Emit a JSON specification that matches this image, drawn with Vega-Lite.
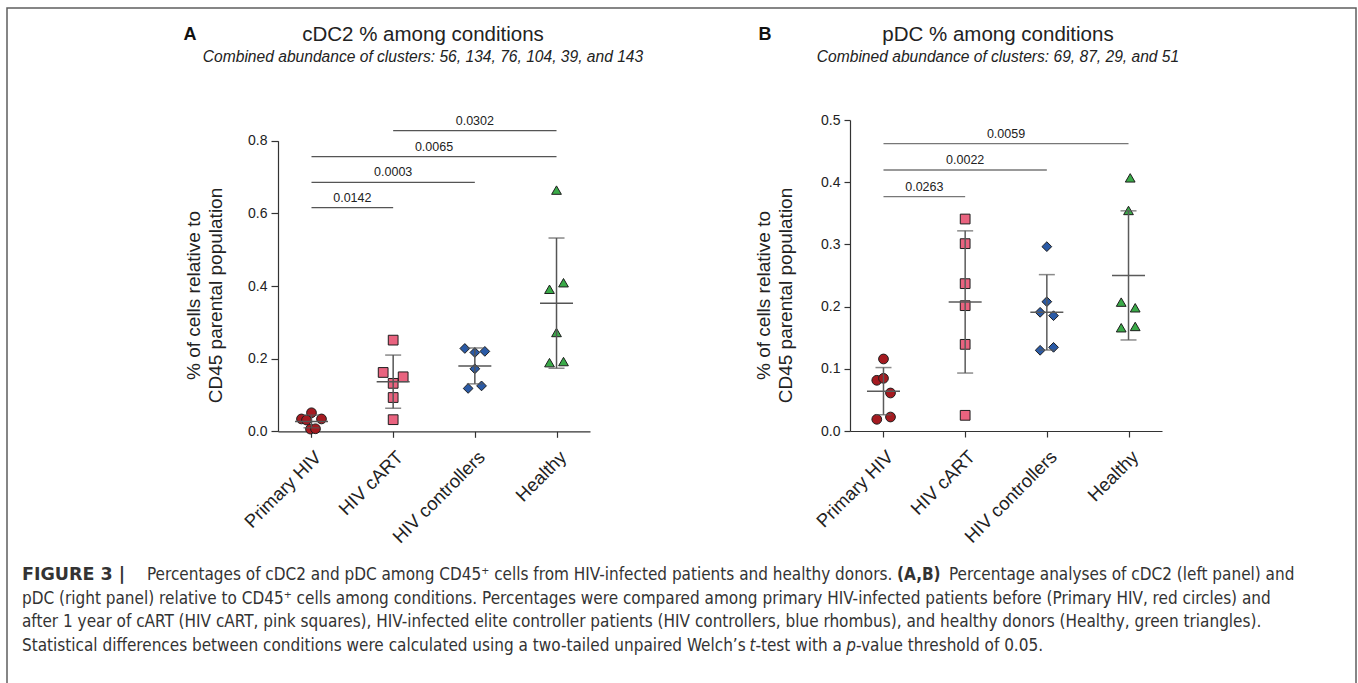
{
  "$schema": "https://vega.github.io/schema/vega-lite/v6.json",
  "width": 1349,
  "height": 690,
  "autosize": {"type": "none"},
  "padding": {"left": 7, "top": 8, "right": 2, "bottom": 0},
  "background": "white",
  "config": {
    "font": "Liberation Sans",
    "view": {"stroke": "#5f5f5f", "strokeWidth": 1.5},
    "axis": {"grid": false, "domainColor": "#333333", "tickColor": "#333333", "labelColor": "#222222", "titleColor": "#222222", "domainWidth": 1.2, "tickWidth": 1.2, "labelFont": "Liberation Sans", "titleFont": "Liberation Sans"},
    "text": {"font": "Liberation Sans", "color": "#222222"}
  },
  "datasets": {
    "pts": [
      {"panel": "A", "cond": "Primary HIV", "v": 0.051, "j": 0},
      {"panel": "A", "cond": "Primary HIV", "v": 0.034, "j": -1},
      {"panel": "A", "cond": "Primary HIV", "v": 0.031, "j": -0.5},
      {"panel": "A", "cond": "Primary HIV", "v": 0.034, "j": 1},
      {"panel": "A", "cond": "Primary HIV", "v": 0.006, "j": -0.1},
      {"panel": "A", "cond": "Primary HIV", "v": 0.007, "j": 0.4},
      {"panel": "A", "cond": "HIV cART", "v": 0.251, "j": 0},
      {"panel": "A", "cond": "HIV cART", "v": 0.162, "j": -1},
      {"panel": "A", "cond": "HIV cART", "v": 0.150, "j": 1},
      {"panel": "A", "cond": "HIV cART", "v": 0.132, "j": 0},
      {"panel": "A", "cond": "HIV cART", "v": 0.093, "j": 0},
      {"panel": "A", "cond": "HIV cART", "v": 0.032, "j": 0},
      {"panel": "A", "cond": "HIV controllers", "v": 0.228, "j": -1},
      {"panel": "A", "cond": "HIV controllers", "v": 0.217, "j": 0},
      {"panel": "A", "cond": "HIV controllers", "v": 0.220, "j": 1},
      {"panel": "A", "cond": "HIV controllers", "v": 0.172, "j": 0},
      {"panel": "A", "cond": "HIV controllers", "v": 0.118, "j": -0.67},
      {"panel": "A", "cond": "HIV controllers", "v": 0.125, "j": 0.67},
      {"panel": "A", "cond": "Healthy", "v": 0.664, "j": 0},
      {"panel": "A", "cond": "Healthy", "v": 0.391, "j": -0.7},
      {"panel": "A", "cond": "Healthy", "v": 0.409, "j": 0.7},
      {"panel": "A", "cond": "Healthy", "v": 0.272, "j": 0},
      {"panel": "A", "cond": "Healthy", "v": 0.189, "j": -0.7},
      {"panel": "A", "cond": "Healthy", "v": 0.192, "j": 0.7},
      {"panel": "B", "cond": "Primary HIV", "v": 0.1158, "j": 0},
      {"panel": "B", "cond": "Primary HIV", "v": 0.0815, "j": -0.67},
      {"panel": "B", "cond": "Primary HIV", "v": 0.0847, "j": 0},
      {"panel": "B", "cond": "Primary HIV", "v": 0.0611, "j": 0.7},
      {"panel": "B", "cond": "Primary HIV", "v": 0.0188, "j": -0.67},
      {"panel": "B", "cond": "Primary HIV", "v": 0.0225, "j": 0.7},
      {"panel": "B", "cond": "HIV cART", "v": 0.3408, "j": 0},
      {"panel": "B", "cond": "HIV cART", "v": 0.3012, "j": 0},
      {"panel": "B", "cond": "HIV cART", "v": 0.2369, "j": 0},
      {"panel": "B", "cond": "HIV cART", "v": 0.2015, "j": 0},
      {"panel": "B", "cond": "HIV cART", "v": 0.1393, "j": 0},
      {"panel": "B", "cond": "HIV cART", "v": 0.0252, "j": 0},
      {"panel": "B", "cond": "HIV controllers", "v": 0.2964, "j": 0},
      {"panel": "B", "cond": "HIV controllers", "v": 0.2079, "j": 0},
      {"panel": "B", "cond": "HIV controllers", "v": 0.1908, "j": -0.67},
      {"panel": "B", "cond": "HIV controllers", "v": 0.1854, "j": 0.67},
      {"panel": "B", "cond": "HIV controllers", "v": 0.1297, "j": -0.67},
      {"panel": "B", "cond": "HIV controllers", "v": 0.1345, "j": 0.67},
      {"panel": "B", "cond": "Healthy", "v": 0.407, "j": 0.17},
      {"panel": "B", "cond": "Healthy", "v": 0.3546, "j": 0},
      {"panel": "B", "cond": "Healthy", "v": 0.2072, "j": -0.73},
      {"panel": "B", "cond": "Healthy", "v": 0.1981, "j": 0.67},
      {"panel": "B", "cond": "Healthy", "v": 0.166, "j": -0.73},
      {"panel": "B", "cond": "Healthy", "v": 0.1681, "j": 0.67}
    ],
    "brk": [
      {"panel": "A", "i1": 0, "i2": 1, "y": 0.6156, "p": "0.0142"},
      {"panel": "A", "i1": 0, "i2": 2, "y": 0.685, "p": "0.0003"},
      {"panel": "A", "i1": 0, "i2": 3, "y": 0.756, "p": "0.0065"},
      {"panel": "A", "i1": 1, "i2": 3, "y": 0.8275, "p": "0.0302"},
      {"panel": "B", "i1": 0, "i2": 1, "y": 0.3767, "p": "0.0263"},
      {"panel": "B", "i1": 0, "i2": 2, "y": 0.4196, "p": "0.0022"},
      {"panel": "B", "i1": 0, "i2": 3, "y": 0.462, "p": "0.0059"}
    ],
    "heads": [
      {"panel": "A", "letter": "A", "title": "cDC2 % among conditions", "sub": "Combined abundance of clusters: 56, 134, 76, 104, 39, and 143"},
      {"panel": "B", "letter": "B", "title": "pDC % among conditions", "sub": "Combined abundance of clusters: 69, 87, 29, and 51"}
    ],
    "cap": [
      {"line": 1, "seg": "1a", "text": "FIGURE 3 |"},
      {"line": 1, "seg": "1b", "text": "Percentages of cDC2 and pDC among CD45⁺ cells from HIV-infected patients and healthy donors."},
      {"line": 1, "seg": "1c", "text": "(A,B)"},
      {"line": 1, "seg": "1d", "text": "Percentage analyses of cDC2 (left panel) and"},
      {"line": 2, "seg": "2", "text": "pDC (right panel) relative to CD45⁺ cells among conditions. Percentages were compared among primary HIV-infected patients before (Primary HIV, red circles) and"},
      {"line": 3, "seg": "3", "text": "after 1 year of cART (HIV cART, pink squares), HIV-infected elite controller patients (HIV controllers, blue rhombus), and healthy donors (Healthy, green triangles)."},
      {"line": 4, "seg": "4a", "text": "Statistical differences between conditions were calculated using a two-tailed unpaired Welch’s"},
      {"line": 4, "seg": "4b", "text": "t"},
      {"line": 4, "seg": "4c", "text": "-test with a"},
      {"line": 4, "seg": "4d", "text": "p"},
      {"line": 4, "seg": "4e", "text": "-value threshold of 0.05."}
    ]
  },
  "layer": [
    {
      "layer": [
        {
          "data": {"name": "pts"},
          "transform": [{"filter": "datum.panel == 'A'"}],
          "mark": {"type": "point", "filled": true, "stroke": "#1e1e1e", "strokeWidth": 1, "opacity": 1, "size": 95},
          "encoding": {
            "x": {"field": "cond", "type": "nominal", "scale": {"type": "point", "domain": ["Primary HIV", "HIV cART", "HIV controllers", "Healthy"], "range": [271, 583], "padding": 0.41},
              "axis": {"orient": "bottom", "offset": -266.7, "title": null, "labelAngle": -45, "labelAlign": "right", "labelBaseline": "top", "labelFontSize": 18.5, "labelPadding": 10, "tickSize": 6, "labelLimit": 300, "labelOverlap": false}},
            "xOffset": {"field": "j", "type": "quantitative", "scale": {"domain": [-1, 1], "range": [-10, 10]}},
            "y": {"field": "v", "type": "quantitative", "scale": {"domain": [0, 0.8], "range": [423.3, 132.7], "nice": false, "zero": false},
              "axis": {"orient": "left", "offset": -271, "values": [0, 0.2, 0.4, 0.6, 0.8], "format": ".1f", "tickSize": 7, "labelFontSize": 14, "labelPadding": 4,
                "title": ["% of cells relative to", "CD45 parental population"], "titleFontSize": 19, "titleFontWeight": "normal", "titleAngle": -90, "titleX": -85, "titleY": 287, "titleAlign": "center", "titleBaseline": "middle", "titleLineHeight": 22}},
            "shape": {"field": "cond", "type": "nominal", "scale": {"domain": ["Primary HIV", "HIV cART", "HIV controllers", "Healthy"], "range": ["circle", "square", "diamond", "triangle-up"]}, "legend": null},
            "fill": {"field": "cond", "type": "nominal", "scale": {"domain": ["Primary HIV", "HIV cART", "HIV controllers", "Healthy"], "range": ["#a51a20", "#e9637f", "#2a5aa6", "#3aaa48"]}, "legend": null}
          }
        },
        {
          "data": {"name": "pts"},
          "transform": [{"filter": "datum.panel == 'A'"}],
          "mark": {"type": "errorbar", "extent": "stdev", "ticks": true, "size": 16, "thickness": 1.5, "color": "#555555"},
          "encoding": {
            "x": {"field": "cond", "type": "nominal", "scale": {"type": "point", "domain": ["Primary HIV", "HIV cART", "HIV controllers", "Healthy"], "range": [271, 583], "padding": 0.41}, "axis": null},
            "y": {"field": "v", "type": "quantitative", "scale": {"domain": [0, 0.8], "range": [423.3, 132.7], "nice": false, "zero": false}, "axis": null}
          }
        },
        {
          "data": {"name": "pts"},
          "transform": [{"filter": "datum.panel == 'A'"}],
          "mark": {"type": "tick", "size": 33, "thickness": 1.5, "color": "#555555"},
          "encoding": {
            "x": {"field": "cond", "type": "nominal", "scale": {"type": "point", "domain": ["Primary HIV", "HIV cART", "HIV controllers", "Healthy"], "range": [271, 583], "padding": 0.41}, "axis": null},
            "y": {"field": "v", "aggregate": "mean", "type": "quantitative", "scale": {"domain": [0, 0.8], "range": [423.3, 132.7], "nice": false, "zero": false}, "axis": null}
          }
        },
        {
          "data": {"name": "brk"},
          "transform": [{"filter": "datum.panel == 'A'"}],
          "mark": {"type": "rule", "color": "#555555", "strokeWidth": 1.3},
          "encoding": {
            "x": {"field": "i1", "type": "quantitative", "scale": {"domain": [-0.41, 3.41], "range": [271, 583]}, "axis": null},
            "x2": {"field": "i2"},
            "y": {"field": "y", "type": "quantitative", "scale": {"domain": [0, 0.8], "range": [423.3, 132.7], "nice": false, "zero": false}, "axis": null}
          }
        },
        {
          "data": {"name": "brk"},
          "transform": [{"filter": "datum.panel == 'A'"}, {"fold": ["i1", "i2"], "as": ["end", "xi"]}],
          "mark": {"type": "text", "fontSize": 12.5, "dy": -10, "baseline": "middle", "align": "center", "color": "#222222"},
          "encoding": {
            "x": {"field": "xi", "aggregate": "mean", "type": "quantitative", "scale": {"domain": [-0.41, 3.41], "range": [271, 583]}, "axis": null},
            "y": {"field": "y", "aggregate": "max", "type": "quantitative", "scale": {"domain": [0, 0.8], "range": [423.3, 132.7], "nice": false, "zero": false}, "axis": null},
            "text": {"field": "p", "type": "nominal"}
          }
        }
      ],
      "resolve": {"scale": {"x": "independent", "y": "independent"}, "axis": {"x": "independent", "y": "independent"}}
    },
    {
      "layer": [
        {
          "data": {"name": "pts"},
          "transform": [{"filter": "datum.panel == 'B'"}],
          "mark": {"type": "point", "filled": true, "stroke": "#1e1e1e", "strokeWidth": 1, "opacity": 1, "size": 95},
          "encoding": {
            "x": {"field": "cond", "type": "nominal", "scale": {"type": "point", "domain": ["Primary HIV", "HIV cART", "HIV controllers", "Healthy"], "range": [843, 1155], "padding": 0.41},
              "axis": {"orient": "bottom", "offset": -267, "title": null, "labelAngle": -45, "labelAlign": "right", "labelBaseline": "top", "labelFontSize": 18.5, "labelPadding": 10, "tickSize": 6, "labelLimit": 300, "labelOverlap": false}},
            "xOffset": {"field": "j", "type": "quantitative", "scale": {"domain": [-1, 1], "range": [-10, 10]}},
            "y": {"field": "v", "type": "quantitative", "scale": {"domain": [0, 0.5], "range": [423, 112], "nice": false, "zero": false},
              "axis": {"orient": "left", "offset": -843, "values": [0, 0.1, 0.2, 0.3, 0.4, 0.5], "format": ".1f", "tickSize": 6, "labelFontSize": 14, "labelPadding": 4,
                "title": ["% of cells relative to", "CD45 parental population"], "titleFontSize": 19, "titleFontWeight": "normal", "titleAngle": -90, "titleX": -87, "titleY": 287, "titleAlign": "center", "titleBaseline": "middle", "titleLineHeight": 22}},
            "shape": {"field": "cond", "type": "nominal", "scale": {"domain": ["Primary HIV", "HIV cART", "HIV controllers", "Healthy"], "range": ["circle", "square", "diamond", "triangle-up"]}, "legend": null},
            "fill": {"field": "cond", "type": "nominal", "scale": {"domain": ["Primary HIV", "HIV cART", "HIV controllers", "Healthy"], "range": ["#a51a20", "#e9637f", "#2a5aa6", "#3aaa48"]}, "legend": null}
          }
        },
        {
          "data": {"name": "pts"},
          "transform": [{"filter": "datum.panel == 'B'"}],
          "mark": {"type": "errorbar", "extent": "stdev", "ticks": true, "size": 16, "thickness": 1.5, "color": "#5a5a5a"},
          "encoding": {
            "x": {"field": "cond", "type": "nominal", "scale": {"type": "point", "domain": ["Primary HIV", "HIV cART", "HIV controllers", "Healthy"], "range": [843, 1155], "padding": 0.41}, "axis": null},
            "y": {"field": "v", "type": "quantitative", "scale": {"domain": [0, 0.5], "range": [423, 112], "nice": false, "zero": false}, "axis": null}
          }
        },
        {
          "data": {"name": "pts"},
          "transform": [{"filter": "datum.panel == 'B'"}],
          "mark": {"type": "tick", "size": 33, "thickness": 1.5, "color": "#5a5a5a"},
          "encoding": {
            "x": {"field": "cond", "type": "nominal", "scale": {"type": "point", "domain": ["Primary HIV", "HIV cART", "HIV controllers", "Healthy"], "range": [843, 1155], "padding": 0.41}, "axis": null},
            "y": {"field": "v", "aggregate": "mean", "type": "quantitative", "scale": {"domain": [0, 0.5], "range": [423, 112], "nice": false, "zero": false}, "axis": null}
          }
        },
        {
          "data": {"name": "brk"},
          "transform": [{"filter": "datum.panel == 'B'"}],
          "mark": {"type": "rule", "color": "#777777", "strokeWidth": 1.3},
          "encoding": {
            "x": {"field": "i1", "type": "quantitative", "scale": {"domain": [-0.41, 3.41], "range": [843, 1155]}, "axis": null},
            "x2": {"field": "i2"},
            "y": {"field": "y", "type": "quantitative", "scale": {"domain": [0, 0.5], "range": [423, 112], "nice": false, "zero": false}, "axis": null}
          }
        },
        {
          "data": {"name": "brk"},
          "transform": [{"filter": "datum.panel == 'B'"}, {"fold": ["i1", "i2"], "as": ["end", "xi"]}],
          "mark": {"type": "text", "fontSize": 12.5, "dy": -10, "baseline": "middle", "align": "center", "color": "#222222"},
          "encoding": {
            "x": {"field": "xi", "aggregate": "mean", "type": "quantitative", "scale": {"domain": [-0.41, 3.41], "range": [843, 1155]}, "axis": null},
            "y": {"field": "y", "aggregate": "max", "type": "quantitative", "scale": {"domain": [0, 0.5], "range": [423, 112], "nice": false, "zero": false}, "axis": null},
            "text": {"field": "p", "type": "nominal"}
          }
        }
      ],
      "resolve": {"scale": {"x": "independent", "y": "independent"}, "axis": {"x": "independent", "y": "independent"}}
    },
    {
      "data": {"name": "heads"},
      "layer": [
        {
          "mark": {"type": "text", "fontSize": 20.5, "baseline": "middle", "align": "center", "color": "#222222"},
          "encoding": {
            "x": {"field": "panel", "type": "nominal", "scale": {"type": "point", "domain": ["A", "B"], "range": [416, 991], "padding": 0}, "axis": null},
            "y": {"datum": "t", "type": "nominal", "scale": {"type": "point", "domain": ["t", "s"], "range": [27, 48.7], "padding": 0}, "axis": null},
            "text": {"field": "title", "type": "nominal"}
          }
        },
        {
          "mark": {"type": "text", "fontSize": 15.6, "fontStyle": "italic", "baseline": "middle", "align": "center", "color": "#222222"},
          "encoding": {
            "x": {"field": "panel", "type": "nominal", "scale": {"type": "point", "domain": ["A", "B"], "range": [416, 991], "padding": 0}, "axis": null},
            "y": {"datum": "s", "type": "nominal", "scale": {"type": "point", "domain": ["t", "s"], "range": [27, 48.7], "padding": 0}, "axis": null},
            "text": {"field": "sub", "type": "nominal"}
          }
        },
        {
          "mark": {"type": "text", "fontSize": 18, "fontWeight": "bold", "baseline": "middle", "align": "center", "dx": -233, "color": "#111111"},
          "encoding": {
            "x": {"field": "panel", "type": "nominal", "scale": {"type": "point", "domain": ["A", "B"], "range": [416, 991], "padding": 0}, "axis": null},
            "y": {"datum": "t", "type": "nominal", "scale": {"type": "point", "domain": ["t", "s"], "range": [27, 48.7], "padding": 0}, "axis": null},
            "text": {"field": "letter", "type": "nominal"}
          }
        }
      ]
    },
    {
      "data": {"name": "cap"},
      "encoding": {
        "x": {"datum": 0, "type": "quantitative", "scale": {"domain": [0, 1], "range": [15, 1341]}, "axis": null},
        "y": {"field": "line", "type": "ordinal", "scale": {"type": "point", "domain": [1, 2, 3, 4], "range": [567, 637.5], "padding": 0}, "axis": null},
        "text": {"field": "text", "type": "nominal"}
      },
      "layer": [
        {
          "transform": [{"filter": {"field": "seg", "oneOf": ["2", "3", "4a"]}}],
          "mark": {"type": "text", "font": "DejaVu Sans Condensed", "fontSize": 17, "align": "left", "baseline": "middle", "color": "#333333"}
        },
        {
          "transform": [{"filter": "datum.seg == '4b'"}],
          "mark": {"type": "text", "font": "DejaVu Sans Condensed", "fontSize": 17, "fontStyle": "italic", "align": "left", "baseline": "middle", "dx": 727.4, "color": "#333333"}
        },
        {
          "transform": [{"filter": "datum.seg == '4c'"}],
          "mark": {"type": "text", "font": "DejaVu Sans Condensed", "fontSize": 17, "align": "left", "baseline": "middle", "dx": 733.4, "color": "#333333"}
        },
        {
          "transform": [{"filter": "datum.seg == '4d'"}],
          "mark": {"type": "text", "font": "DejaVu Sans Condensed", "fontSize": 17, "fontStyle": "italic", "align": "left", "baseline": "middle", "dx": 824.3, "color": "#333333"}
        },
        {
          "transform": [{"filter": "datum.seg == '4e'"}],
          "mark": {"type": "text", "font": "DejaVu Sans Condensed", "fontSize": 17, "align": "left", "baseline": "middle", "dx": 834.0, "color": "#333333"}
        },
        {
          "transform": [{"filter": "datum.seg == '1a'"}],
          "mark": {"type": "text", "font": "DejaVu Sans", "fontSize": 17.5, "fontWeight": "bold", "align": "left", "baseline": "middle", "color": "#333333"}
        },
        {
          "transform": [{"filter": "datum.seg == '1b'"}],
          "mark": {"type": "text", "font": "DejaVu Sans Condensed", "fontSize": 17, "align": "left", "baseline": "middle", "dx": 125, "color": "#333333"}
        },
        {
          "transform": [{"filter": "datum.seg == '1c'"}],
          "mark": {"type": "text", "font": "DejaVu Sans Condensed", "fontSize": 17, "fontWeight": "bold", "align": "left", "baseline": "middle", "dx": 875, "color": "#333333"}
        },
        {
          "transform": [{"filter": "datum.seg == '1d'"}],
          "mark": {"type": "text", "font": "DejaVu Sans Condensed", "fontSize": 17, "align": "left", "baseline": "middle", "dx": 927, "color": "#333333"}
        }
      ]
    }
  ],
  "resolve": {"scale": {"x": "independent", "y": "independent"}, "axis": {"x": "independent", "y": "independent"}}
}
